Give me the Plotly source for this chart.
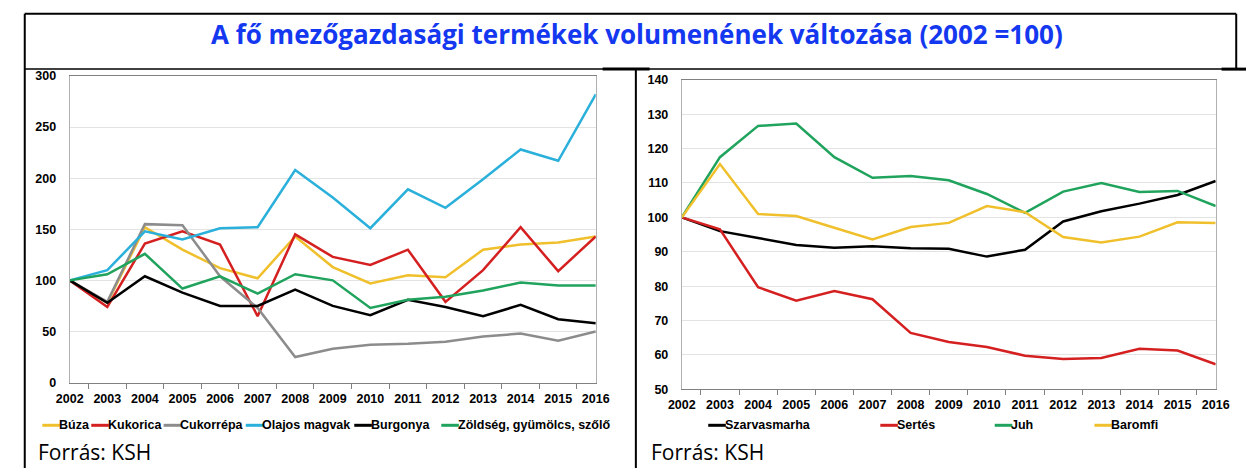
import plotly.graph_objects as go

W, H = 1260, 475

years = [str(y) for y in range(2002, 2017)]

# Left chart (crop products)
buza = [100, 78, 152, 130, 112, 102, 143, 113, 97, 105, 103, 130, 135, 137, 143]
kukorica = [100, 74, 136, 148, 135, 65, 145, 123, 115, 130, 79, 110, 152, 109, 143]
cukorrepa = [100, 79, 155, 154, 104, 73, 25, 33, 37, 38, 40, 45, 48, 41, 50]
olajos = [100, 110, 148, 140, 151, 152, 208, 181, 151, 189, 171, 199, 228, 217, 282]
burgonya = [100, 78, 104, 88, 75, 75, 91, 75, 66, 81, 74, 65, 76, 62, 58]
zoldseg = [100, 106, 126, 92, 104, 87, 106, 100, 73, 81, 84, 90, 98, 95, 95]

left_names = ["Búza", "Kukorica", "Cukorrépa", "Olajos magvak", "Burgonya",
              "Zöldség, gyümölcs, szőlő"]
left_series = [buza, kukorica, cukorrepa, olajos, burgonya, zoldseg]
left_colors = ["#f0c02c", "#d42020", "#8c8c8c", "#2ab0da", "#000000", "#20a35c"]

# Right chart (livestock)
szarvasmarha = [100, 96, 94, 92, 91.2, 91.6, 91, 90.9, 88.6, 90.6, 98.8, 101.8, 104, 106.5, 110.6]
sertes = [100, 96.5, 79.7, 75.8, 78.6, 76.2, 66.4, 63.8, 62.3, 59.8, 58.8, 59.1, 61.8, 61.3, 57.3]
juh = [100, 117.5, 126.6, 127.3, 117.5, 111.5, 112, 110.8, 106.8, 101.3, 107.5, 110, 107.4, 107.7, 103.3]
baromfi = [100, 115.5, 101, 100.4, 97, 93.6, 97.2, 98.4, 103.3, 101.5, 94.3, 92.7, 94.4, 98.6, 98.4]

right_names = ["Szarvasmarha", "Sertés", "Juh", "Baromfi"]
right_series = [szarvasmarha, sertes, juh, baromfi]
right_colors = ["#000000", "#d42020", "#20a35c", "#f0c02c"]

title_text = "A fő mezőgazdasági termékek volumenének változása (2002 =100)"
source_text = "Forrás: KSH"


def fx(x):
    return x / W


def fy(y):
    return 1 - y / H


fig = go.Figure()

for name, vals, col in zip(left_names, left_series, left_colors):
    fig.add_trace(go.Scatter(x=years, y=vals, name=name, mode="lines",
                             line=dict(color=col, width=2.5),
                             xaxis="x", yaxis="y", showlegend=False))
for name, vals, col in zip(right_names, right_series, right_colors):
    fig.add_trace(go.Scatter(x=years, y=vals, name=name, mode="lines",
                             line=dict(color=col, width=2.5),
                             xaxis="x2", yaxis="y2", showlegend=False))

tickfont = dict(family="Liberation Sans, Arial", size=12.5, color="#000000", weight="bold")

axis_common_x = dict(type="category", showgrid=False, showline=True, linecolor="#808080",
                     linewidth=1, mirror=True, ticks="outside", tickson="boundaries",
                     ticklen=5, tickcolor="#808080", tickfont=tickfont, fixedrange=True,
                     tickangle=0, ticklabelstandoff=4)
axis_common_y = dict(showgrid=True, gridcolor="#e3e3e3", gridwidth=1, showline=True,
                     linecolor="#b0b0b0", linewidth=1, mirror=True, ticks="",
                     tickfont=tickfont, zeroline=False, fixedrange=True,
                     ticklabelstandoff=10)

fig.update_layout(
    width=W, height=H, autosize=False,
    margin=dict(l=0, r=0, t=0, b=0),
    paper_bgcolor="white", plot_bgcolor="white",
    xaxis=dict(domain=[fx(57), fx(595)], anchor="y", **axis_common_x),
    yaxis=dict(domain=[fy(387), fy(71)], anchor="x", range=[0, 300], dtick=50, **axis_common_y),
    xaxis2=dict(domain=[fx(683), fx(1229)], anchor="y2", **axis_common_x),
    yaxis2=dict(domain=[fy(394), fy(75)], anchor="x2", range=[50, 140], dtick=10, **axis_common_y),
)

# Frame lines (table borders)
line_k = dict(color="black", width=2)
shapes = [
    dict(type="line", xref="paper", yref="paper", x0=fx(11), x1=fx(1250), y0=fy(7), y1=fy(7), line=line_k),
    dict(type="line", xref="paper", yref="paper", x0=fx(11), x1=fx(11), y0=fy(7), y1=fy(475), line=line_k),
    dict(type="line", xref="paper", yref="paper", x0=fx(1250), x1=fx(1250), y0=fy(7), y1=fy(64), line=line_k),
    dict(type="line", xref="paper", yref="paper", x0=fx(11), x1=fx(1260), y0=fy(64), y1=fy(64),
         line=dict(color="black", width=1.5)),
    dict(type="line", xref="paper", yref="paper", x0=fx(602), x1=fx(650), y0=fy(64), y1=fy(64),
         line=dict(color="black", width=3)),
    dict(type="line", xref="paper", yref="paper", x0=fx(1235), x1=fx(1260), y0=fy(64), y1=fy(64),
         line=dict(color="black", width=3)),
    dict(type="line", xref="paper", yref="paper", x0=fx(636), x1=fx(636), y0=fy(64), y1=fy(475), line=line_k),
]

annotations = [
    dict(text=title_text, xref="paper", yref="paper", x=fx(637), y=fy(28), xanchor="center",
         yanchor="middle", showarrow=False,
         font=dict(family="Open Sans", size=26, color="#1438f0", weight="bold")),
    dict(text=source_text, xref="paper", yref="paper", x=fx(22), y=fy(459), xanchor="left",
         yanchor="middle", showarrow=False,
         font=dict(family="Open Sans", size=21, color="#000000")),
    dict(text=source_text, xref="paper", yref="paper", x=fx(649), y=fy(459), xanchor="left",
         yanchor="middle", showarrow=False,
         font=dict(family="Open Sans", size=21, color="#000000")),
]

legfont = dict(family="Liberation Sans, Arial", size=12.5, color="#000000", weight="bold")
left_leg_x = [29, 79, 153, 237, 348, 437]
right_leg_x = [710, 886, 1003, 1105]
for names, cols, xs in ((left_names, left_colors, left_leg_x), (right_names, right_colors, right_leg_x)):
    for name, col, x0 in zip(names, cols, xs):
        shapes.append(dict(type="line", xref="paper", yref="paper", x0=fx(x0), x1=fx(x0 + 18),
                           y0=fy(431), y1=fy(431), line=dict(color=col, width=3)))
        annotations.append(dict(text=name, xref="paper", yref="paper", x=fx(x0 + 17), y=fy(431),
                                xanchor="left", yanchor="middle", showarrow=False, font=legfont,
                                xshift=-2))

fig.update_layout(shapes=shapes, annotations=annotations)

fig.write_html(
    "out.html",
    post_script="document.body.style.margin='0';document.body.style.padding='0';"
                "document.documentElement.style.overflow='hidden';",
    config={"displayModeBar": False},
)
